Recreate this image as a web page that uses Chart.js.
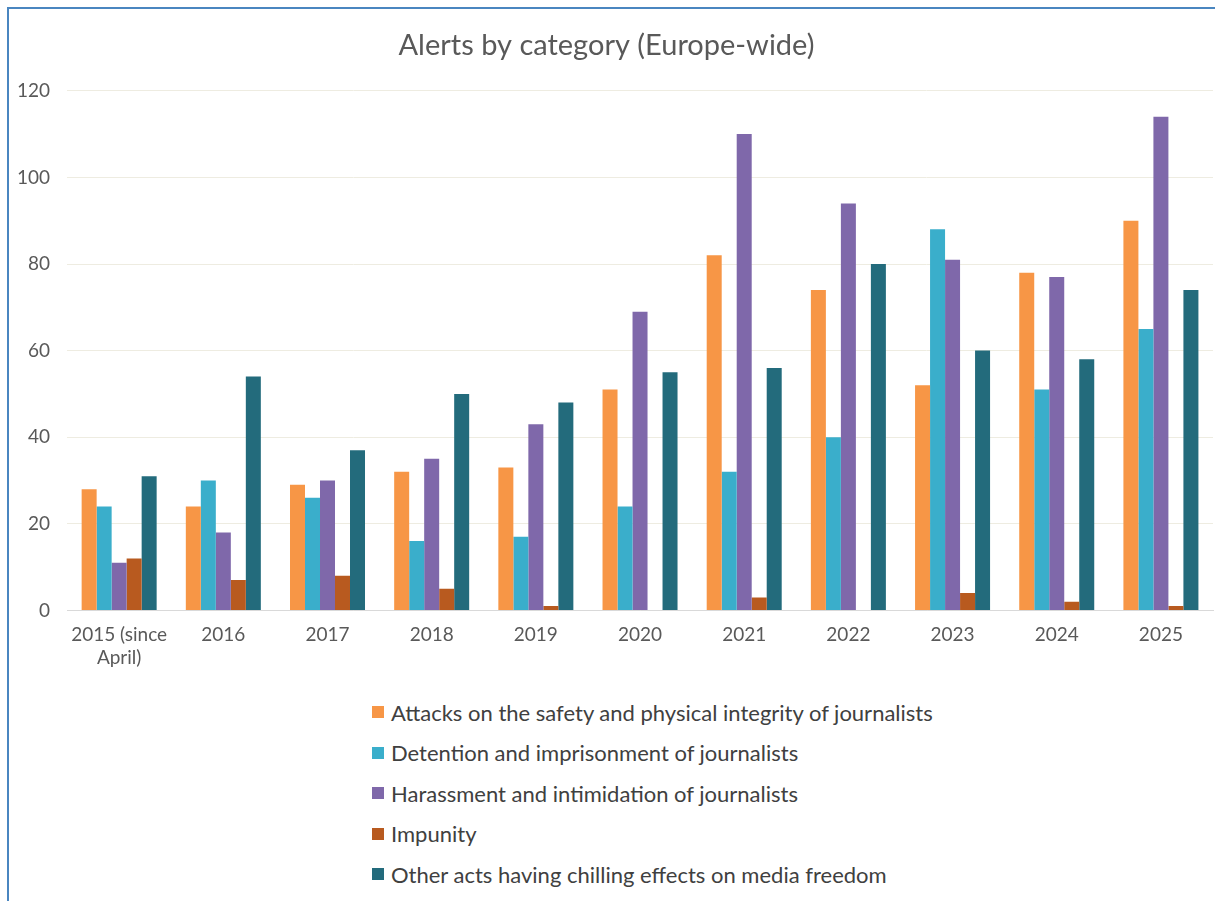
<!DOCTYPE html>
<html>
<head>
<meta charset="utf-8">
<script src="https://cdn.jsdelivr.net/npm/chart.js@4"></script>
<style>
  html, body { margin: 0; padding: 0; background: #fff; }
  body { width: 1215px; height: 901px; position: relative; overflow: hidden; font-family: Lato, sans-serif; }
  #frame { position: absolute; left: 7px; top: 7px; width: 1220px; height: 900px;
           border-left: 2px solid #4a86c0; border-top: 2px solid #4a86c0; }
  #wrap { position: absolute; left: 0; top: 0; width: 1215px; height: 682px; }
  #legend { position: absolute; left: 372px; top: 692px; }
  .item { height: 40.5px; display: flex; align-items: center; font-size: 22px; color: #404040; }
  .box { width: 12px; height: 12px; margin-right: 7px; }
</style>
</head>
<body>
<div id="frame"></div>
<div id="wrap"><canvas id="alertsChart"></canvas></div>
<div id="legend"></div>
<script>
// Données
const years = [['2015 (since', 'April)'], '2016', '2017', '2018', '2019', '2020', '2021', '2022', '2023', '2024', '2025'];
const attacks    = [28, 24, 29, 32, 33, 51, 82, 74, 52, 78, 90];
const detention  = [24, 30, 26, 16, 17, 24, 32, 40, 88, 51, 65];
const harassment = [11, 18, 30, 35, 43, 69, 110, 94, 81, 77, 114];
const impunity   = [12, 7, 8, 5, 1, 0, 3, 0, 4, 2, 1];
const chilling   = [31, 54, 37, 50, 48, 55, 56, 80, 60, 58, 74];

const seriesNames = [
    'Attacks on the safety and physical integrity of journalists',
    'Detention and imprisonment of journalists',
    'Harassment and intimidation of journalists',
    'Impunity',
    'Other acts having chilling effects on media freedom'
];
const seriesColors = ['#f79646', '#3aaecb', '#7f68aa', '#b85a1f', '#236b7c'];
const seriesData = [attacks, detention, harassment, impunity, chilling];

const ctx = document.getElementById('alertsChart').getContext('2d');
const chart = new Chart(ctx, {
    type: 'bar',
    data: {
        labels: years,
        datasets: seriesData.map((values, i) => ({
            label: seriesNames[i],
            data: values,
            backgroundColor: seriesColors[i],
            borderWidth: 0,
            categoryPercentage: 0.72,
            barPercentage: 1.0
        }))
    },
    options: {
        responsive: true,
        maintainAspectRatio: false,
        animation: false,
        layout: { padding: { left: 0, right: 2, top: 28, bottom: 0 } },
        plugins: {
            legend: { display: false },
            tooltip: { enabled: false },
            title: {
                display: true,
                text: 'Alerts by category (Europe-wide)',
                color: '#595959',
                font: { family: 'Lato', size: 29, weight: 'normal' },
                padding: { top: 0, bottom: 28 }
            }
        },
        scales: {
            x: {
                grid: { display: false, drawTicks: false },
                border: { color: '#d9d9d9', width: 1 },
                ticks: {
                    color: '#595959',
                    font: { family: 'Lato', size: 19 },
                    padding: 13,
                    maxRotation: 0,
                    autoSkip: false
                }
            },
            y: {
                min: 0,
                max: 120,
                ticks: {
                    stepSize: 20,
                    color: '#595959',
                    font: { family: 'Lato', size: 19 },
                    padding: 17
                },
                grid: { color: '#eeece1', drawTicks: false },
                border: { display: false }
            }
        }
    }
});

// Légende verticale construite depuis les datasets
const legendEl = document.getElementById('legend');
chart.data.datasets.forEach(ds => {
    const row = document.createElement('div');
    row.className = 'item';
    const box = document.createElement('span');
    box.className = 'box';
    box.style.background = ds.backgroundColor;
    const txt = document.createElement('span');
    txt.textContent = ds.label;
    row.appendChild(box);
    row.appendChild(txt);
    legendEl.appendChild(row);
});
</script>
</body>
</html>
